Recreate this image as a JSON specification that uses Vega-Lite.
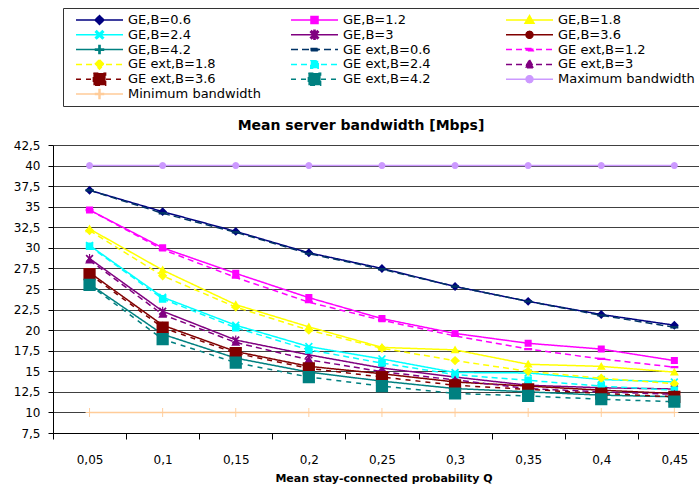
{
  "$schema": "https://vega.github.io/schema/vega-lite/v6.json",
  "width": 646,
  "height": 288,
  "autosize": {"type": "none"},
  "padding": {"left": 53, "top": 145, "right": 0, "bottom": 54},
  "background": "white",
  "title": {"text": "Mean server bandwidth [Mbps]", "font": "DejaVu Sans", "fontSize": 14, "fontWeight": "bold", "color": "black", "anchor": "middle", "dx": -15, "offset": 0, "baseline": "middle", "dy": 132},
  "data": {"values": [
    {"s":"GE,B=0.6","q":0.05,"v":37.0},{"s":"GE,B=0.6","q":0.1,"v":34.4},{"s":"GE,B=0.6","q":0.15,"v":32.0},{"s":"GE,B=0.6","q":0.2,"v":29.4},{"s":"GE,B=0.6","q":0.25,"v":27.5},{"s":"GE,B=0.6","q":0.3,"v":25.3},{"s":"GE,B=0.6","q":0.35,"v":23.5},{"s":"GE,B=0.6","q":0.4,"v":21.9},{"s":"GE,B=0.6","q":0.45,"v":20.6},
    {"s":"GE,B=1.2","q":0.05,"v":34.6},{"s":"GE,B=1.2","q":0.1,"v":30.0},{"s":"GE,B=1.2","q":0.15,"v":26.9},{"s":"GE,B=1.2","q":0.2,"v":23.95},{"s":"GE,B=1.2","q":0.25,"v":21.4},{"s":"GE,B=1.2","q":0.3,"v":19.6},{"s":"GE,B=1.2","q":0.35,"v":18.4},{"s":"GE,B=1.2","q":0.4,"v":17.7},{"s":"GE,B=1.2","q":0.45,"v":16.3},
    {"s":"GE,B=1.8","q":0.05,"v":32.3},{"s":"GE,B=1.8","q":0.1,"v":27.3},{"s":"GE,B=1.8","q":0.15,"v":23.1},{"s":"GE,B=1.8","q":0.2,"v":20.4},{"s":"GE,B=1.8","q":0.25,"v":17.9},{"s":"GE,B=1.8","q":0.3,"v":17.6},{"s":"GE,B=1.8","q":0.35,"v":15.85},{"s":"GE,B=1.8","q":0.4,"v":15.6},{"s":"GE,B=1.8","q":0.45,"v":14.9},
    {"s":"GE,B=2.4","q":0.05,"v":30.3},{"s":"GE,B=2.4","q":0.1,"v":24.0},{"s":"GE,B=2.4","q":0.15,"v":20.6},{"s":"GE,B=2.4","q":0.2,"v":18.0},{"s":"GE,B=2.4","q":0.25,"v":16.5},{"s":"GE,B=2.4","q":0.3,"v":14.85},{"s":"GE,B=2.4","q":0.35,"v":14.8},{"s":"GE,B=2.4","q":0.4,"v":14.0},{"s":"GE,B=2.4","q":0.45,"v":13.7},
    {"s":"GE,B=3","q":0.05,"v":28.7},{"s":"GE,B=3","q":0.1,"v":22.3},{"s":"GE,B=3","q":0.15,"v":18.8},{"s":"GE,B=3","q":0.2,"v":17.0},{"s":"GE,B=3","q":0.25,"v":15.4},{"s":"GE,B=3","q":0.3,"v":14.3},{"s":"GE,B=3","q":0.35,"v":13.3},{"s":"GE,B=3","q":0.4,"v":13.0},{"s":"GE,B=3","q":0.45,"v":12.85},
    {"s":"GE,B=3.6","q":0.05,"v":27.0},{"s":"GE,B=3.6","q":0.1,"v":20.6},{"s":"GE,B=3.6","q":0.15,"v":17.4},{"s":"GE,B=3.6","q":0.2,"v":15.6},{"s":"GE,B=3.6","q":0.25,"v":14.7},{"s":"GE,B=3.6","q":0.3,"v":13.7},{"s":"GE,B=3.6","q":0.35,"v":13.2},{"s":"GE,B=3.6","q":0.4,"v":12.7},{"s":"GE,B=3.6","q":0.45,"v":12.3},
    {"s":"GE,B=4.2","q":0.05,"v":25.6},{"s":"GE,B=4.2","q":0.1,"v":19.5},{"s":"GE,B=4.2","q":0.15,"v":16.6},{"s":"GE,B=4.2","q":0.2,"v":14.9},{"s":"GE,B=4.2","q":0.25,"v":13.8},{"s":"GE,B=4.2","q":0.3,"v":12.9},{"s":"GE,B=4.2","q":0.35,"v":12.5},{"s":"GE,B=4.2","q":0.4,"v":12.1},{"s":"GE,B=4.2","q":0.45,"v":11.9},
    {"s":"GE ext,B=0.6","q":0.05,"v":37.0},{"s":"GE ext,B=0.6","q":0.1,"v":34.2},{"s":"GE ext,B=0.6","q":0.15,"v":31.9},{"s":"GE ext,B=0.6","q":0.2,"v":29.3},{"s":"GE ext,B=0.6","q":0.25,"v":27.4},{"s":"GE ext,B=0.6","q":0.3,"v":25.3},{"s":"GE ext,B=0.6","q":0.35,"v":23.5},{"s":"GE ext,B=0.6","q":0.4,"v":21.8},{"s":"GE ext,B=0.6","q":0.45,"v":20.35},
    {"s":"GE ext,B=1.2","q":0.05,"v":34.6},{"s":"GE ext,B=1.2","q":0.1,"v":29.8},{"s":"GE ext,B=1.2","q":0.15,"v":26.4},{"s":"GE ext,B=1.2","q":0.2,"v":23.4},{"s":"GE ext,B=1.2","q":0.25,"v":21.2},{"s":"GE ext,B=1.2","q":0.3,"v":19.3},{"s":"GE ext,B=1.2","q":0.35,"v":17.7},{"s":"GE ext,B=1.2","q":0.4,"v":16.5},{"s":"GE ext,B=1.2","q":0.45,"v":15.5},
    {"s":"GE ext,B=1.8","q":0.05,"v":32.1},{"s":"GE ext,B=1.8","q":0.1,"v":26.6},{"s":"GE ext,B=1.8","q":0.15,"v":22.8},{"s":"GE ext,B=1.8","q":0.2,"v":20.0},{"s":"GE ext,B=1.8","q":0.25,"v":17.8},{"s":"GE ext,B=1.8","q":0.3,"v":16.3},{"s":"GE ext,B=1.8","q":0.35,"v":15.0},{"s":"GE ext,B=1.8","q":0.4,"v":14.15},{"s":"GE ext,B=1.8","q":0.45,"v":13.5},
    {"s":"GE ext,B=2.4","q":0.05,"v":30.2},{"s":"GE ext,B=2.4","q":0.1,"v":23.8},{"s":"GE ext,B=2.4","q":0.15,"v":20.3},{"s":"GE ext,B=2.4","q":0.2,"v":17.6},{"s":"GE ext,B=2.4","q":0.25,"v":16.0},{"s":"GE ext,B=2.4","q":0.3,"v":14.6},{"s":"GE ext,B=2.4","q":0.35,"v":13.9},{"s":"GE ext,B=2.4","q":0.4,"v":13.2},{"s":"GE ext,B=2.4","q":0.45,"v":12.7},
    {"s":"GE ext,B=3","q":0.05,"v":28.5},{"s":"GE ext,B=3","q":0.1,"v":21.9},{"s":"GE ext,B=3","q":0.15,"v":18.5},{"s":"GE ext,B=3","q":0.2,"v":16.4},{"s":"GE ext,B=3","q":0.25,"v":14.95},{"s":"GE ext,B=3","q":0.3,"v":13.95},{"s":"GE ext,B=3","q":0.35,"v":12.9},{"s":"GE ext,B=3","q":0.4,"v":12.5},{"s":"GE ext,B=3","q":0.45,"v":12.2},
    {"s":"GE ext,B=3.6","q":0.05,"v":26.8},{"s":"GE ext,B=3.6","q":0.1,"v":20.3},{"s":"GE ext,B=3.6","q":0.15,"v":17.2},{"s":"GE ext,B=3.6","q":0.2,"v":15.35},{"s":"GE ext,B=3.6","q":0.25,"v":14.3},{"s":"GE ext,B=3.6","q":0.3,"v":13.3},{"s":"GE ext,B=3.6","q":0.35,"v":12.8},{"s":"GE ext,B=3.6","q":0.4,"v":12.3},{"s":"GE ext,B=3.6","q":0.45,"v":11.9},
    {"s":"GE ext,B=4.2","q":0.05,"v":25.5},{"s":"GE ext,B=4.2","q":0.1,"v":18.9},{"s":"GE ext,B=4.2","q":0.15,"v":16.05},{"s":"GE ext,B=4.2","q":0.2,"v":14.3},{"s":"GE ext,B=4.2","q":0.25,"v":13.2},{"s":"GE ext,B=4.2","q":0.3,"v":12.3},{"s":"GE ext,B=4.2","q":0.35,"v":12.0},{"s":"GE ext,B=4.2","q":0.4,"v":11.6},{"s":"GE ext,B=4.2","q":0.45,"v":11.3},
    {"s":"Maximum bandwidth","q":0.05,"v":40},{"s":"Maximum bandwidth","q":0.1,"v":40},{"s":"Maximum bandwidth","q":0.15,"v":40},{"s":"Maximum bandwidth","q":0.2,"v":40},{"s":"Maximum bandwidth","q":0.25,"v":40},{"s":"Maximum bandwidth","q":0.3,"v":40},{"s":"Maximum bandwidth","q":0.35,"v":40},{"s":"Maximum bandwidth","q":0.4,"v":40},{"s":"Maximum bandwidth","q":0.45,"v":40},
    {"s":"Minimum bandwidth","q":0.05,"v":10},{"s":"Minimum bandwidth","q":0.1,"v":10},{"s":"Minimum bandwidth","q":0.15,"v":10},{"s":"Minimum bandwidth","q":0.2,"v":10},{"s":"Minimum bandwidth","q":0.25,"v":10},{"s":"Minimum bandwidth","q":0.3,"v":10},{"s":"Minimum bandwidth","q":0.35,"v":10},{"s":"Minimum bandwidth","q":0.4,"v":10},{"s":"Minimum bandwidth","q":0.45,"v":10}
  ]},
  "encoding": {
    "x": {
      "field": "q", "type": "quantitative",
      "scale": {"domain": [0.025, 0.46686], "nice": false, "zero": false},
      "axis": {
        "values": [0.025, 0.075, 0.125, 0.175, 0.225, 0.275, 0.325, 0.375, 0.425],
        "labelExpr": "replace(format(datum.value + 0.025, '.2~f'), '.', ',')",
        "labelOffset": 36.55, "labelOverlap": false, "labelFlush": false, "labelBound": false,
        "labelFont": "DejaVu Sans", "labelFontSize": 12, "labelColor": "black", "labelPadding": 15,
        "tickSize": 6, "tickColor": "black", "domainColor": "black", "grid": false,
        "title": "Mean stay-connected probability Q", "titleFont": "DejaVu Sans", "titleFontSize": 11, "titleFontWeight": "bold", "titleColor": "black",
        "titleX": 330.5, "titleY": 45, "titleBaseline": "middle", "titleAlign": "center", "titleAnchor": null
      }
    },
    "y": {
      "field": "v", "type": "quantitative",
      "scale": {"domain": [7.5, 42.5], "nice": false, "zero": false},
      "axis": {
        "values": [7.5, 10, 12.5, 15, 17.5, 20, 22.5, 25, 27.5, 30, 32.5, 35, 37.5, 40, 42.5],
        "labelExpr": "replace(format(datum.value, '.1~f'), '.', ',')",
        "labelFont": "DejaVu Sans", "labelFontSize": 12, "labelColor": "black", "labelPadding": 8,
        "tickSize": 5, "tickColor": "black", "domainColor": "black",
        "grid": true, "gridColor": "#404040", "gridWidth": 1, "title": null
      }
    },
    "color": {
      "field": "s", "type": "nominal",
      "scale": {
        "domain": ["GE,B=0.6","GE,B=1.2","GE,B=1.8","GE,B=2.4","GE,B=3","GE,B=3.6","GE,B=4.2","GE ext,B=0.6","GE ext,B=1.2","GE ext,B=1.8","GE ext,B=2.4","GE ext,B=3","GE ext,B=3.6","GE ext,B=4.2","Maximum bandwidth","Minimum bandwidth"],
        "range": ["#000080","#FF00FF","#FFFF00","#00FFFF","#800080","#800000","#008080","#003366","#FF00FF","#FFFF00","#00FFFF","#800080","#800000","#008080","#CC99FF","#FFCC99"]
      },
      "legend": {
        "title": null, "orient": "none", "direction": "horizontal", "legendX": 10, "legendY": -137, "columns": 3, "gridAlign": "all",
        "columnPadding": 18, "rowPadding": 0.8, "padding": 5, "clipHeight": 14, "symbolSize": 2209,
        "symbolOffset": 7, "labelOffset": 4, "symbolStrokeWidth": 1.5,
        "labelFont": "DejaVu Sans", "labelFontSize": 13, "labelColor": "black", "labelLimit": 400,
        "strokeColor": "#333333", "fillColor": "white",
        "encode": {"symbols": {"update": {"stroke": {"signal": "scale('color', datum.value)"}, "fill": {"signal": "scale('color', datum.value)"}, "strokeWidth": {"value": 1.5}, "opacity": {"value": 1}}}}
      }
    }
  },
  "layer": [
    {
      "mark": {"type": "line", "strokeWidth": 1.5},
      "encoding": {
        "strokeDash": {
          "field": "s", "type": "nominal",
          "scale": {
            "domain": ["GE,B=0.6","GE,B=1.2","GE,B=1.8","GE,B=2.4","GE,B=3","GE,B=3.6","GE,B=4.2","GE ext,B=0.6","GE ext,B=1.2","GE ext,B=1.8","GE ext,B=2.4","GE ext,B=3","GE ext,B=3.6","GE ext,B=4.2","Maximum bandwidth","Minimum bandwidth"],
            "range": [[1,0],[1,0],[1,0],[1,0],[1,0],[1,0],[1,0],[7,4],[6,4],[6,4],[6,4],[6,4],[5,5],[5,5],[1,0],[1,0]]
          },
          "legend": {
            "title": null, "orient": "none", "direction": "horizontal", "legendX": 10, "legendY": -137, "columns": 3, "gridAlign": "all",
            "columnPadding": 18, "rowPadding": 0.8, "padding": 5, "clipHeight": 14, "symbolSize": 2209,
            "symbolOffset": 7, "labelOffset": 4, "symbolStrokeWidth": 1.5,
            "labelFont": "DejaVu Sans", "labelFontSize": 13, "labelColor": "black", "labelLimit": 400,
            "strokeColor": "#333333", "fillColor": "white"
          }
        }
      }
    },
    {
      "mark": {"type": "point", "filled": true, "opacity": 1, "strokeWidth": 0, "size": 2209},
      "encoding": {
        "shape": {
          "field": "s", "type": "nominal",
          "scale": {
            "domain": ["GE,B=0.6","GE,B=1.2","GE,B=1.8","GE,B=2.4","GE,B=3","GE,B=3.6","GE,B=4.2","GE ext,B=0.6","GE ext,B=1.2","GE ext,B=1.8","GE ext,B=2.4","GE ext,B=3","GE ext,B=3.6","GE ext,B=4.2","Maximum bandwidth","Minimum bandwidth"],
            "range": [
              "M-1,0H1M0,-0.19L0.19,0L0,0.19L-0.19,0Z",
              "M-1,0H1M-0.15,-0.15H0.15V0.15H-0.15Z",
              "M-1,0H1M0,-0.19L0.19,0.14L-0.19,0.14Z",
              "M-1,0H1M-0.12,-0.17L0.17,0.12L0.12,0.17L-0.17,-0.12ZM0.12,-0.17L0.17,-0.12L-0.12,0.17L-0.17,0.12Z",
              "M-1,0H1M-0.12,-0.17L0.17,0.12L0.12,0.17L-0.17,-0.12ZM0.12,-0.17L0.17,-0.12L-0.12,0.17L-0.17,0.12ZM-0.025,-0.19H0.025V0.19H-0.025Z",
              "M-1,0H1M0.15,0L0.13,0.075L0.075,0.13L0,0.15L-0.075,0.13L-0.13,0.075L-0.15,0L-0.13,-0.075L-0.075,-0.13L0,-0.15L0.075,-0.13L0.13,-0.075Z",
              "M-1,0H1M-0.025,-0.17H0.025V0.17H-0.025ZM-0.17,-0.025H0.17V0.025H-0.17Z",
              "M-1,0H1M-0.17,-0.05H0.17V0.05H-0.17Z",
              "M-1,0H1M-0.17,-0.05H0.17V0.05H-0.17Z",
              "M-1,0H1M0,-0.2L0.2,0L0,0.2L-0.2,0Z",
              "M-1,0H1M-0.16,-0.16H0.16V0.16H-0.16Z",
              "M-1,0H1M0,-0.19L0.19,0.14L-0.19,0.14Z",
              "M-1,0H1M-0.26,-0.26H0.26V0.26H-0.26Z",
              "M-1,0H1M-0.26,-0.26H0.26V0.26H-0.26Z",
              "M-1,0H1M0.15,0L0.13,0.075L0.075,0.13L0,0.15L-0.075,0.13L-0.13,0.075L-0.15,0L-0.13,-0.075L-0.075,-0.13L0,-0.15L0.075,-0.13L0.13,-0.075Z",
              "M-1,0H1M-0.02,-0.19H0.02V0.19H-0.02ZM-0.17,-0.02H0.17V0.02H-0.17Z"
            ]
          },
          "legend": {
            "title": null, "orient": "none", "direction": "horizontal", "legendX": 10, "legendY": -137, "columns": 3, "gridAlign": "all",
            "columnPadding": 18, "rowPadding": 0.8, "padding": 5, "clipHeight": 14, "symbolSize": 2209,
            "symbolOffset": 7, "labelOffset": 4, "symbolStrokeWidth": 1.5,
            "labelFont": "DejaVu Sans", "labelFontSize": 13, "labelColor": "black", "labelLimit": 400,
            "strokeColor": "#333333", "fillColor": "white"
          }
        }
      }
    }
  ],
  "config": {"view": {"stroke": null}, "font": "DejaVu Sans"}
}
